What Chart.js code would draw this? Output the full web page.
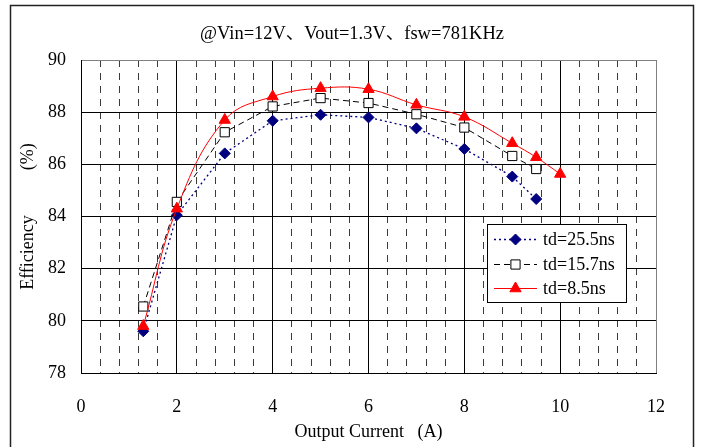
<!DOCTYPE html>
<html><head><meta charset="utf-8">
<script src="https://cdn.jsdelivr.net/npm/chart.js@4.4.0/dist/chart.umd.min.js"></script>
<style>html,body{margin:0;padding:0;background:#fff}</style>
</head><body>
<canvas id="c" width="701" height="447"></canvas>
<script>
const titleText = '@Vin=12V、Vout=1.3V、fsw=781KHz';
const xTitle = 'Output Current   (A)';
const yTitle = 'Efficiency　　  (%)';
const seriesLabels = ['td=25.5ns', 'td=15.7ns', 'td=8.5ns'];
const currents = [1.3, 2, 3, 4, 5, 6, 7, 8, 9, 9.5];
const currentsRed = [1.3, 2, 3, 4, 5, 6, 7, 8, 9, 9.5, 10];
const eff255 = [79.6, 84.05, 86.42, 87.67, 87.9, 87.8, 87.38, 86.59, 85.53, 84.67];
const eff157 = [80.55, 84.56, 87.23, 88.22, 88.54, 88.35, 87.92, 87.41, 86.32, 85.82];
const eff85 = [79.8, 84.3, 87.7, 88.6, 88.92, 88.88, 88.28, 87.82, 86.81, 86.27, 85.63];
const xRange = [0, 12];
const yRange = [78, 90];
const xStep = 2, xMinorStep = 0.4, yStep = 2;

const SERIF = '"Liberation Serif", "Times New Roman", "Noto Sans CJK SC", serif';
const pts = (xs, ys) => xs.map((x, i) => ({x, y: ys[i]}));
const isMajor = v => Math.abs(v / xStep - Math.round(v / xStep)) < 1e-6;

const frame = {
  id: 'frame',
  beforeDraw(chart) {
    const ctx = chart.ctx;
    ctx.save();
    ctx.fillStyle = '#fff';
    ctx.fillRect(0, 0, chart.width, chart.height);
    ctx.strokeStyle = '#222';
    ctx.lineWidth = 1.5;
    ctx.strokeRect(10.5, 5.5, 683, 460);
    ctx.restore();
  },
  afterDraw(chart) {
    const ctx = chart.ctx;
    ctx.save();
    // title
    ctx.font = '18px ' + SERIF;
    ctx.fillStyle = '#000';
    ctx.textAlign = 'center';
    ctx.textBaseline = 'middle';
    const w = ctx.measureText(titleText).width;
    const sx = Math.max(0.9, Math.min(1.1, 304 / w));
    ctx.translate(352, 34);
    ctx.scale(sx, 1);
    ctx.fillText(titleText, 0, 0);
    ctx.restore();
    // legend
    ctx.save();
    const bx = 487.5, by = 224.5, bw = 139, bh = 78;
    ctx.fillStyle = '#fff';
    ctx.fillRect(bx, by, bw, bh);
    ctx.strokeStyle = '#000';
    ctx.lineWidth = 1;
    ctx.strokeRect(bx, by, bw, bh);
    const rows = [239, 264, 288];
    [0, 1, 2].forEach((di, r) => {
      const ds = chart.data.datasets[di];
      const y = rows[r];
      ctx.save();
      ctx.strokeStyle = ds.borderColor;
      ctx.lineWidth = ds.borderWidth;
      ctx.setLineDash(ds.borderDash || []);
      ctx.beginPath();
      ctx.moveTo(494, y + 0.5);
      ctx.lineTo(537, y + 0.5);
      ctx.stroke();
      ctx.restore();
      ctx.save();
      ctx.fillStyle = ds.pointBackgroundColor;
      ctx.strokeStyle = ds.pointBorderColor;
      ctx.lineWidth = ds.pointBorderWidth;
      Chart.helpers.drawPoint(ctx, {pointStyle: ds.pointStyle, radius: ds.pointRadius, rotation: 0, borderWidth: ds.pointBorderWidth}, 515.5, y + 0.5);
      ctx.restore();
      ctx.fillStyle = '#000';
      ctx.font = '18px ' + SERIF;
      ctx.textAlign = 'left';
      ctx.textBaseline = 'middle';
      ctx.fillText(seriesLabels[di], 543, y + 1);
    });
    ctx.restore();
  }
};

new Chart(document.getElementById('c'), {
  type: 'line',
  data: {
    datasets: [
      {
        label: seriesLabels[0], data: pts(currents, eff255), order: 3,
        borderColor: '#000080', borderWidth: 1.3, borderDash: [2, 3], tension: 0,
        pointStyle: 'rectRot', pointRadius: 5.5, pointBackgroundColor: '#000080',
        pointBorderColor: '#000080', pointBorderWidth: 1
      },
      {
        label: seriesLabels[1], data: pts(currents, eff157), order: 2,
        borderColor: '#000', borderWidth: 1, borderDash: [6, 4], tension: 0,
        pointStyle: 'rect', pointRadius: 6.5, pointBackgroundColor: '#fff',
        pointBorderColor: '#000', pointBorderWidth: 1
      },
      {
        label: seriesLabels[2], data: pts(currentsRed, eff85), order: 1,
        borderColor: '#ff0000', borderWidth: 1, borderDash: [], tension: 0.4,
        pointStyle: 'triangle', pointRadius: 6.5, pointBackgroundColor: '#ff0000',
        pointBorderColor: '#ff0000', pointBorderWidth: 1
      }
    ]
  },
  options: {
    responsive: false,
    animation: false,
    devicePixelRatio: 1,
    layout: {padding: {left: 0, right: 45, top: 60, bottom: 0}},
    plugins: {legend: {display: false}, tooltip: {enabled: false}, title: {display: false}},
    elements: {line: {fill: false}},
    scales: {
      x: {
        type: 'linear', position: 'bottom', min: xRange[0], max: xRange[1],
        ticks: {stepSize: xStep, color: '#000', font: {family: SERIF, size: 18}, padding: 23},
        grid: {color: c => (c.tick && c.tick.value === xRange[1]) ? '#808080' : '#000', lineWidth: 1, drawTicks: false},
        border: {display: true, color: '#000', width: 1},
        title: {display: true, text: xTitle, color: '#000', font: {family: SERIF, size: 18}, padding: {top: 0, bottom: 4}},
        afterFit: s => { s.height = 74; }
      },
      xMinor: {
        type: 'linear', position: 'top', min: xRange[0], max: xRange[1],
        ticks: {stepSize: xMinorStep, display: false},
        grid: {color: c => (c.tick && isMajor(c.tick.value)) ? 'rgba(0,0,0,0)' : '#3a3a3a', lineWidth: 1, drawTicks: false},
        border: {display: false, dash: [7, 6]},
        afterFit: s => { s.height = 0; }
      },
      y: {
        type: 'linear', position: 'left', min: yRange[0], max: yRange[1],
        ticks: {stepSize: yStep, color: '#000', font: {family: SERIF, size: 18}, padding: 15},
        grid: {color: c => (c.tick && c.tick.value === yRange[1]) ? '#808080' : '#000', lineWidth: 1, drawTicks: false},
        border: {display: true, color: '#000', width: 1},
        title: {display: true, text: yTitle, color: '#000', font: {family: SERIF, size: 18}, padding: {top: 17, bottom: 0}},
        afterFit: s => { s.width = 81; }
      }
    }
  },
  plugins: [frame]
});
</script>
</body></html>
